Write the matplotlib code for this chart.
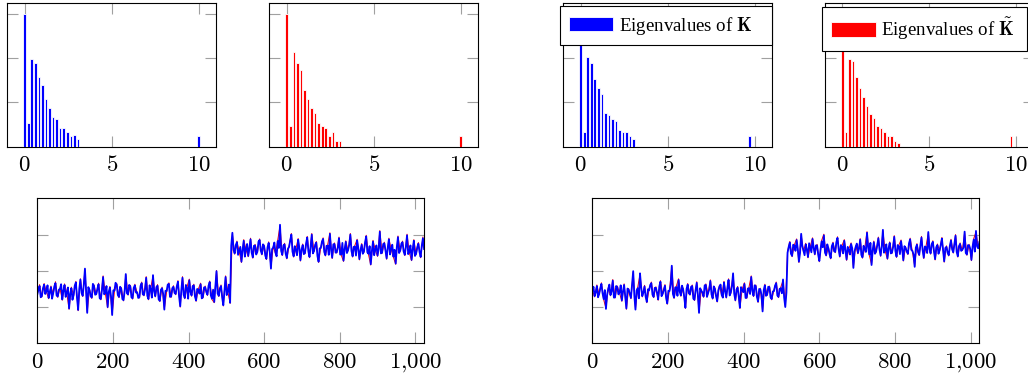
import matplotlib.pyplot as plt
import numpy as np

plt.rcParams['mathtext.fontset'] = 'cm'
plt.rcParams['font.family'] = ['Liberation Serif', 'DejaVu Serif']

# histogram heights of the eigenvalues (last bin = the large outlier)
eig_max_left = 10.0
eig_max_right = 9.7
hist_K_left = [2.98, 0.53, 1.98, 1.88, 1.58, 1.38, 1.08, 0.88, 0.68, 0.63,
               0.43, 0.43, 0.32, 0.23, 0.27, 0.17] + [0] * 33 + [0.23]
hist_Kt_left = [2.98, 0.47, 2.13, 1.88, 1.73, 1.28, 1.08, 0.88, 0.77, 0.53,
                0.47, 0.43, 0.23, 0.32, 0.13, 0.13] + [0] * 33 + [0.23]
hist_K_right = [2.98, 0.34, 2.02, 1.88, 1.53, 1.33, 1.18, 0.77, 0.71, 0.62,
                0.58, 0.38, 0.32, 0.32, 0.23, 0.17, 0.02] + [0] * 31 + [0.23]
hist_Kt_right = [2.98, 0.34, 1.97, 1.93, 1.58, 1.33, 1.13, 0.92, 0.73, 0.64,
                 0.47, 0.43, 0.32, 0.23, 0.23, 0.13, 0.08] + [0] * 31 + [0.23]

# blue signals: one value every 3 samples
blue_step = 3
sig_blue_left = [
    1.35, 1.49, 1.58, 1.27, 1.30, 1.52, 1.62, 1.36, 1.44, 1.60, 1.25, 1.41, 1.55, 1.23, 1.38,
    1.57, 1.66, 1.32, 1.29, 1.48, 1.50, 1.63, 1.21, 1.45, 1.61, 1.28, 1.40, 1.54, 0.96, 1.37,
    1.52, 1.20, 1.33, 1.59, 1.68, 1.26, 0.92, 1.50, 1.76, 1.39, 1.31, 1.62, 2.06, 1.43, 0.84,
    1.55, 1.47, 1.30, 1.26, 1.64, 1.58, 1.34, 1.36, 1.51, 1.63, 1.24, 1.22, 1.47, 1.83, 1.35,
    1.39, 1.58, 1.00, 1.42, 1.54, 1.29, 0.78, 1.46, 1.45, 1.67, 1.62, 1.33, 1.28, 1.56, 1.51,
    1.22, 1.19, 1.44, 1.91, 1.38, 1.35, 1.61, 1.57, 1.27, 1.24, 1.53, 1.60, 1.40, 1.41, 1.25,
    1.27, 1.58, 1.66, 1.35, 1.33, 1.49, 1.81, 1.31, 1.22, 1.60, 1.49, 1.26, 1.88, 1.43, 1.30,
    1.55, 1.59, 1.21, 1.17, 1.48, 1.52, 1.36, 0.93, 1.45, 1.44, 1.62, 1.64, 1.28, 1.29, 1.52,
    1.56, 1.39, 1.36, 1.57, 1.70, 1.30, 1.02, 1.47, 1.81, 1.34, 1.25, 1.61, 1.53, 1.23, 1.74,
    1.42, 1.32, 1.58, 1.60, 1.29, 1.18, 1.50, 1.47, 1.37, 1.63, 1.24, 1.27, 1.54, 1.55, 1.41,
    1.34, 1.59, 1.69, 1.32, 1.23, 1.48, 1.14, 1.56, 1.99, 1.37, 1.31, 1.52, 1.58, 1.26, 1.05,
    1.46, 1.83, 1.33, 1.44, 1.62, 1.12, 2.70,
    3.05, 2.58, 2.48, 2.71, 2.79, 2.44, 2.55, 2.66, 2.25, 2.57, 2.83, 2.39, 2.60, 2.74, 2.41,
    2.62, 2.87, 2.50, 2.37, 2.69, 2.70, 2.45, 2.52, 2.80, 2.85, 2.56, 2.46, 2.73, 2.68, 2.42,
    2.33, 2.65, 2.77, 2.51, 2.06, 2.60, 2.64, 2.78, 2.50, 2.40, 2.82, 2.63, 3.27, 2.55, 2.44,
    2.70, 2.73, 2.47, 2.35, 2.61, 2.66, 2.84, 3.00, 2.53, 2.40, 2.68, 2.58, 2.43, 2.86, 2.64,
    2.29, 2.59, 2.71, 2.46, 2.49, 2.76, 2.92, 2.54, 2.38, 2.67, 3.00, 2.48, 2.55, 2.72, 2.78,
    2.41, 2.25, 2.62, 2.63, 2.81, 2.88, 2.52, 2.43, 2.69, 2.69, 2.44, 3.02, 2.58, 2.36, 2.73,
    2.74, 2.50, 2.51, 2.65, 2.90, 2.45, 2.45, 2.77, 2.28, 2.60, 2.80, 2.49, 2.57, 2.71, 3.00,
    2.55, 2.40, 2.66, 2.67, 2.42, 2.84, 2.63, 2.32, 2.57, 2.72, 2.47, 2.53, 2.79, 2.95, 2.51,
    2.47, 2.68, 2.18, 2.54, 2.81, 2.43, 2.59, 2.70, 2.42, 2.61, 3.08, 2.48, 2.50, 2.74, 2.76,
    2.56, 2.34, 2.64, 2.87, 2.45, 2.61, 2.72, 2.39, 2.58, 2.20, 2.66, 2.93, 2.49, 2.56, 2.75,
    2.79, 2.53, 2.44, 2.67, 2.98, 2.46, 2.52, 2.70, 2.30, 2.59, 2.83, 2.41, 2.47, 2.65, 2.75,
    2.52, 2.38, 2.69, 2.90, 2.60]
sig_blue_right = [
    1.45, 1.56, 1.30, 1.41, 1.58, 1.27, 1.36, 1.52, 1.64, 1.38, 1.22, 1.47, 0.95, 1.33, 1.50,
    1.62, 1.33, 1.44, 1.73, 1.26, 1.27, 1.58, 1.55, 1.35, 1.40, 1.60, 1.18, 1.43, 1.61, 1.29,
    0.96, 1.51, 1.48, 1.37, 1.25, 1.63, 1.99, 1.32, 0.93, 1.46, 1.52, 1.24, 1.93, 1.55, 1.30,
    1.40, 1.57, 1.28, 1.14, 1.49, 1.46, 1.61, 1.66, 1.34, 1.28, 1.53, 1.53, 1.39, 1.21, 1.57,
    1.70, 1.30, 1.37, 1.48, 1.59, 1.25, 1.10, 1.45, 1.44, 1.62, 2.14, 1.36, 1.26, 1.54, 1.55,
    1.31, 1.75, 1.42, 1.32, 1.59, 1.49, 1.27, 0.98, 1.50, 1.62, 1.38, 1.35, 1.56, 1.58, 1.23,
    1.20, 1.47, 1.67, 1.33, 0.84, 1.52, 1.45, 1.40, 1.29, 1.60, 1.61, 1.28, 1.38, 1.49, 1.72,
    1.35, 1.24, 1.57, 1.50, 1.30, 1.16, 1.46, 1.57, 1.62, 1.33, 1.26, 1.68, 1.44, 1.27, 1.53,
    1.75, 1.32, 1.40, 1.58, 1.93, 1.37, 1.19, 1.48, 1.54, 1.29, 0.98, 1.55, 1.47, 1.41, 1.64,
    1.25, 1.26, 1.51, 1.52, 1.36, 1.83, 1.45, 1.31, 1.60, 1.58, 1.28, 1.15, 1.50, 1.49, 1.34,
    0.88, 1.47, 1.60, 1.31, 1.34, 1.56, 1.55, 1.27, 1.22, 1.43, 1.44, 1.59, 1.66, 1.32, 1.28,
    1.50, 1.52, 1.38, 1.76, 1.26, 1.00, 1.40,
    2.50, 2.66, 2.78, 2.47, 2.41, 2.72, 2.69, 2.55, 2.85, 2.61, 2.25, 2.49, 3.02, 2.68, 2.55,
    2.43, 2.73, 2.59, 2.38, 2.76, 2.64, 2.51, 2.88, 2.63, 2.46, 2.70, 2.70, 2.44, 2.27, 2.57,
    2.81, 2.65, 2.98, 2.50, 2.43, 2.73, 2.62, 2.46, 2.35, 2.68, 2.76, 2.54, 2.52, 2.79, 2.91,
    2.60, 2.40, 2.71, 2.67, 2.48, 2.83, 2.58, 2.31, 2.66, 2.58, 2.45, 2.74, 2.62, 2.08, 2.53,
    2.66, 2.75, 2.49, 2.61, 2.86, 2.44, 2.37, 2.69, 2.60, 2.52, 3.05, 2.64, 2.45, 2.77, 2.16,
    2.56, 2.79, 2.47, 2.53, 2.70, 2.90, 2.59, 2.42, 2.67, 3.13, 2.50, 2.56, 2.73, 2.34, 2.62,
    2.77, 2.48, 2.50, 2.66, 2.94, 2.55, 2.39, 2.71, 2.68, 2.46, 2.82, 2.60, 2.29, 2.68, 2.63,
    2.53, 2.47, 2.76, 2.87, 2.58, 2.55, 2.45, 2.11, 2.64, 2.72, 2.51, 2.44, 2.70, 2.92, 2.57,
    2.36, 2.67, 2.65, 2.49, 3.07, 2.61, 2.48, 2.74, 2.80, 2.54, 2.32, 2.65, 2.71, 2.47, 2.57,
    2.72, 2.89, 2.56, 2.26, 2.63, 2.66, 2.50, 2.43, 2.69, 2.84, 2.59, 2.51, 2.75, 2.97, 2.52,
    2.40, 2.68, 2.74, 2.55, 2.58, 2.64, 3.08, 2.49, 2.45, 2.71, 2.70, 2.60, 2.30, 2.66, 2.86,
    2.53, 3.10, 2.67, 2.62, 2.80]

# red signals: one value every 6 samples
red_step = 6
sig_red_left = [
    1.37, 1.62, 1.28, 1.65, 1.42, 1.23, 1.58, 1.36, 1.70, 1.27, 1.52, 1.19, 1.64, 1.38, 0.94,
    1.55, 1.31, 1.71, 0.90, 1.78, 1.29, 2.04, 0.86, 1.50, 1.24, 1.61, 1.34, 1.66, 1.20, 1.86,
    1.37, 0.98, 1.57, 0.80, 1.43, 1.65, 1.26, 1.54, 1.17, 1.89, 1.33, 1.60, 1.22, 1.63, 1.39,
    1.25, 1.69, 1.31, 1.84, 1.20, 1.52, 1.86, 1.28, 1.62, 1.15, 1.55, 0.95, 1.42, 1.67, 1.27,
    1.59, 1.34, 1.73, 1.00, 1.84, 1.23, 1.56, 1.77, 1.30, 1.63, 1.16, 1.50, 1.66, 1.25, 1.58,
    1.32, 1.72, 1.21, 1.12, 2.01, 1.29, 1.61, 1.03, 1.86, 1.42, 1.10,
    3.02, 2.46, 2.82, 2.53, 2.23, 2.86, 2.58, 2.39, 2.90, 2.35, 2.73, 2.50, 2.88, 2.44, 2.71,
    2.31, 2.80, 2.08, 2.67, 2.48, 2.85, 3.24, 2.42, 2.76, 2.33, 2.69, 3.03, 2.38, 2.61, 2.89,
    2.27, 2.74, 2.47, 2.95, 2.36, 3.03, 2.53, 2.81, 2.23, 2.66, 2.91, 2.41, 2.72, 3.05, 2.34,
    2.77, 2.49, 2.93, 2.43, 2.26, 2.83, 2.55, 3.03, 2.38, 2.70, 2.87, 2.30, 2.75, 2.51, 2.98,
    2.45, 2.16, 2.84, 2.57, 2.40, 3.11, 2.48, 2.79, 2.32, 2.90, 2.59, 2.37, 2.18, 2.96, 2.54,
    2.82, 2.42, 3.01, 2.50, 2.28, 2.86, 2.45, 2.78, 2.36, 2.93]
sig_red_right = [
    1.47, 1.28, 1.61, 1.34, 1.67, 1.20, 0.97, 1.53, 1.31, 1.76, 1.25, 1.58, 1.38, 1.16, 1.64,
    0.94, 1.51, 1.23, 1.96, 0.95, 1.55, 1.90, 1.28, 1.60, 1.12, 1.49, 1.69, 1.26, 1.56, 1.19,
    1.73, 1.35, 1.62, 1.08, 1.47, 2.11, 1.24, 1.58, 1.78, 1.30, 1.52, 0.96, 1.65, 1.33, 1.61,
    1.18, 1.70, 0.86, 1.48, 1.27, 1.64, 1.36, 1.75, 1.22, 1.53, 1.14, 1.60, 1.31, 1.71, 1.25,
    1.78, 1.38, 1.90, 1.17, 1.57, 0.96, 1.50, 1.67, 1.24, 1.55, 1.86, 1.29, 1.61, 1.13, 1.52,
    0.90, 1.63, 1.32, 1.58, 1.20, 1.47, 1.69, 1.26, 1.55, 1.73, 1.02,
    2.53, 2.81, 2.39, 2.72, 2.88, 2.23, 2.99, 2.53, 2.76, 2.36, 2.67, 2.91, 2.44, 2.73, 2.25,
    2.84, 3.01, 2.41, 2.65, 2.33, 2.79, 2.50, 2.94, 2.38, 2.70, 2.86, 2.29, 2.61, 2.77, 2.10,
    2.69, 2.47, 2.89, 2.35, 2.63, 3.08, 2.43, 2.18, 2.82, 2.51, 2.93, 2.40, 3.10, 2.54, 2.32,
    2.80, 2.48, 2.97, 2.37, 2.71, 2.85, 2.27, 2.66, 2.45, 2.90, 2.53, 2.13, 2.75, 2.42, 2.95,
    2.34, 2.68, 3.04, 2.46, 2.83, 2.30, 2.74, 2.55, 2.92, 2.24, 2.69, 2.41, 2.87, 2.49, 3.00,
    2.38, 2.77, 2.56, 3.05, 2.43, 2.73, 2.28, 2.89, 3.07, 2.65]

hist_ticks = [0, 5, 10]
sig_ticks = [0, 200, 400, 600, 800, 1000]
sig_tick_labels = ['$0$', '$200$', '$400$', '$600$', '$800$', '$1{,}000$']

fig = plt.figure(figsize=(10.28, 3.75), dpi=100)


def style(ax):
    for s in ax.spines.values():
        s.set_linewidth(0.8)
        s.set_color('black')
    ax.tick_params(direction='in', length=8, width=0.8, color='#a0a0a0',
                   top=True, right=True, labelleft=False, labelsize=16.5, pad=6)


def hist_axes(rect, heights, eig_max, color, label=None, box=None):
    ax = fig.add_axes(rect)
    centers = np.linspace(0, eig_max, len(heights))
    ax.bar(centers, heights, width=0.15, color=color, edgecolor='white',
           linewidth=0.6, zorder=3, label=label)
    ax.set_xlim(-1, 11)
    ax.set_ylim(0, 3.23)
    ax.set_xticks(hist_ticks)
    ax.set_xticklabels(['$%d$' % t for t in hist_ticks])
    ax.set_yticks([1, 2, 3])
    style(ax)
    if label:
        leg = ax.legend(loc='upper left', bbox_to_anchor=box, mode='expand',
                        fancybox=False, framealpha=1, edgecolor='black',
                        fontsize=13.6, handlelength=2.38, handleheight=0.8,
                        handletextpad=0.28, borderpad=0.45, borderaxespad=0)
        leg.get_frame().set_linewidth(0.8)
        leg.set_zorder(5)
    return ax


top_b, top_h, top_w = 0.6088, 0.3824, 0.2030
hist_axes([0.0071, top_b, top_w, top_h], hist_K_left, eig_max_left, '#0000ff')
hist_axes([0.2620, top_b, top_w, top_h], hist_Kt_left, eig_max_left, '#ff0000')
hist_axes([0.5480, top_b, top_w, top_h], hist_K_right, eig_max_right, '#0000ff',
          r'Eigenvalues of $\mathbf{K}$', box=(-0.016, 0, 1.016, 0.981))
hist_axes([0.8025, top_b, top_w, top_h], hist_Kt_right, eig_max_right, '#ff0000',
          r'Eigenvalues of $\tilde{\mathbf{K}}$', box=(-0.014, 0, 0.98, 0.972))


def signal_axes(rect, red, blue):
    ax = fig.add_axes(rect)
    ax.plot(np.arange(len(red)) * red_step, red, color='#ff0000', lw=0.7)
    ax.plot(np.arange(len(blue)) * blue_step, blue, color='#0000ff', lw=1.3)
    ax.set_xlim(0, 1023)
    ax.set_ylim(0, 4)
    ax.set_xticks(sig_ticks)
    ax.set_xticklabels(sig_tick_labels)
    ax.set_yticks([1, 2, 3])
    style(ax)
    return ax


signal_axes([0.0363, 0.0845, 0.3762, 0.3867], sig_red_left, sig_blue_left)
signal_axes([0.5762, 0.0845, 0.3765, 0.3867], sig_red_right, sig_blue_right)

fig.savefig('out.png', dpi=100)
